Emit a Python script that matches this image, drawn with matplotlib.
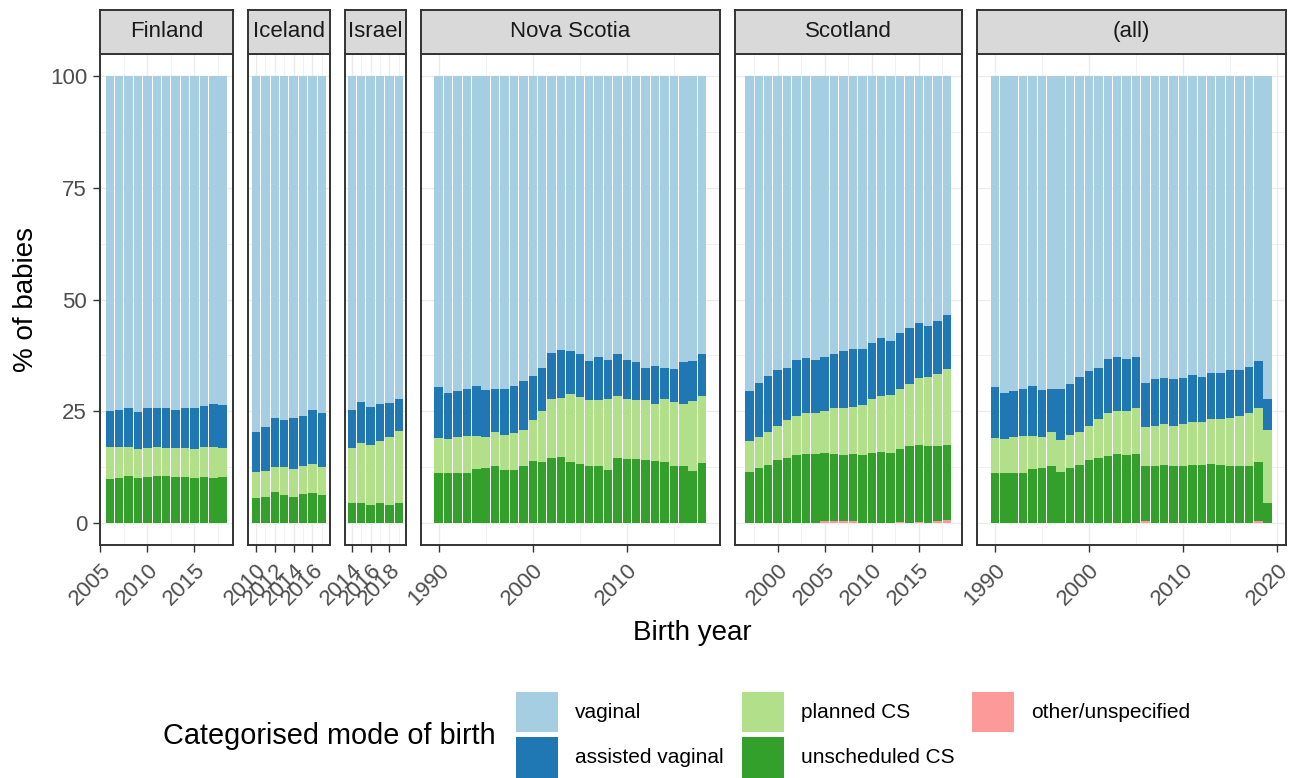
import matplotlib
matplotlib.use("Agg")
import matplotlib.pyplot as plt
from matplotlib.patches import Patch
import numpy as np

plt.rcParams['font.family'] = ['Liberation Sans', 'DejaVu Sans']

# ---------------------------------------------------------------- data
categories = ["vaginal", "assisted vaginal", "planned CS", "unscheduled CS", "other/unspecified"]
colours = ["#A6CEE3", "#1F78B4", "#B2DF8A", "#33A02C", "#FB9A99"]
panels = ["Finland", "Iceland", "Israel", "Nova Scotia", "Scotland", "(all)"]

finland_years = list(range(2006, 2019))
finland_vaginal = [75.0, 74.7, 74.4, 75.1, 74.4, 74.4, 74.4, 74.7, 74.4, 74.4, 73.8, 73.5, 73.6]
finland_assisted = [8.1, 8.3, 8.6, 8.5, 8.9, 8.7, 8.9, 8.6, 8.9, 9.2, 9.3, 9.5, 9.6]
finland_planned = [7.1, 7.1, 6.6, 6.4, 6.5, 6.5, 6.3, 6.5, 6.5, 6.4, 6.7, 7.0, 6.6]
finland_unscheduled = [9.8, 9.9, 10.4, 10.0, 10.2, 10.4, 10.4, 10.2, 10.2, 10.0, 10.2, 10.0, 10.2]
finland_other = [0.0] * 13

iceland_years = list(range(2010, 2018))
iceland_vaginal = [79.6, 78.6, 76.5, 77.1, 76.5, 76.2, 74.7, 75.5]
iceland_assisted = [9.1, 9.9, 11.1, 10.5, 11.5, 11.0, 12.1, 12.0]
iceland_planned = [5.8, 5.7, 5.6, 6.2, 6.2, 6.3, 6.6, 6.4]
iceland_unscheduled = [5.5, 5.8, 6.8, 6.2, 5.8, 6.5, 6.6, 6.1]
iceland_other = [0.0] * 8

israel_years = list(range(2014, 2020))
israel_vaginal = [74.7, 72.9, 74.1, 73.3, 73.1, 72.3]
israel_assisted = [8.5, 9.3, 8.5, 8.5, 7.8, 7.1]
israel_planned = [12.4, 13.5, 13.4, 13.9, 15.1, 16.2]
israel_unscheduled = [4.4, 4.3, 4.0, 4.3, 4.0, 4.4]
israel_other = [0.0] * 6

nova_scotia_years = list(range(1990, 2019))
nova_scotia_vaginal = [69.7, 70.9, 70.6, 70.0, 69.4, 70.3, 70.0, 70.1, 69.4, 68.2,
                       67.1, 65.4, 62.0, 61.3, 61.6, 62.3, 63.8, 62.9, 63.6, 62.3,
                       63.6, 64.1, 65.4, 64.8, 65.4, 65.5, 64.1, 63.8, 62.3]
nova_scotia_assisted = [11.4, 10.4, 10.2, 10.6, 11.2, 10.5, 9.7, 10.2, 10.6, 11.0,
                        9.9, 9.6, 10.4, 10.8, 9.6, 9.6, 8.8, 9.7, 8.8, 9.4,
                        8.8, 8.4, 7.2, 8.7, 7.0, 7.5, 9.4, 9.0, 9.4]
nova_scotia_planned = [7.8, 7.6, 8.1, 8.3, 7.3, 6.9, 7.7, 7.8, 8.1, 8.2,
                       9.1, 11.4, 13.2, 13.2, 15.2, 14.9, 14.8, 14.8, 15.7, 13.9,
                       13.3, 13.2, 13.4, 12.7, 14.0, 14.3, 13.9, 15.6, 14.9]
nova_scotia_unscheduled = [11.1, 11.1, 11.1, 11.1, 12.1, 12.3, 12.6, 11.9, 11.9, 12.6,
                           13.9, 13.6, 14.4, 14.7, 13.6, 13.2, 12.6, 12.6, 11.9, 14.4,
                           14.3, 14.3, 14.0, 13.8, 13.6, 12.7, 12.6, 11.6, 13.4]
nova_scotia_other = [0.0] * 29

scotland_years = list(range(1997, 2019))
scotland_vaginal = [70.5, 68.6, 67.2, 65.9, 65.4, 63.6, 63.1, 63.6, 62.9, 62.3, 61.6,
                    61.1, 61.1, 59.7, 58.7, 59.3, 57.6, 56.4, 55.3, 55.9, 54.9, 53.5]
scotland_assisted = [11.3, 12.1, 12.5, 12.4, 11.7, 12.6, 12.4, 11.9, 12.1, 12.0, 12.7,
                     12.9, 12.6, 12.5, 13.0, 12.2, 12.5, 12.6, 12.3, 11.4, 11.8, 12.0]
scotland_planned = [6.8, 7.1, 7.4, 7.7, 8.5, 8.7, 9.1, 9.1, 9.4, 10.3, 10.6,
                    10.7, 11.2, 12.1, 12.4, 12.9, 13.5, 13.9, 14.9, 15.6, 16.1, 17.0]
scotland_unscheduled = [11.4, 12.2, 12.9, 14.0, 14.4, 15.1, 15.4, 15.4, 15.3, 15.1, 14.8,
                        15.0, 15.1, 15.7, 15.9, 15.6, 16.2, 17.1, 17.3, 17.1, 16.9, 17.0]
scotland_other = [0.0, 0.0, 0.0, 0.0, 0.0, 0.0, 0.0, 0.0, 0.3, 0.3, 0.3,
                  0.3, 0.0, 0.0, 0.0, 0.0, 0.2, 0.0, 0.2, 0.0, 0.3, 0.5]

all_years = list(range(1990, 2020))
all_vaginal = [69.7, 70.9, 70.6, 70.0, 69.4, 70.3, 70.0, 70.1, 68.9, 67.3,
               66.1, 65.4, 63.3, 62.9, 63.3, 62.9, 68.6, 67.7, 67.5, 67.7,
               67.5, 66.9, 67.3, 66.4, 66.4, 65.9, 65.8, 65.1, 63.7, 72.2]
all_assisted = [11.4, 10.4, 10.2, 10.6, 11.2, 10.5, 9.7, 11.3, 11.5, 12.3,
                12.2, 11.4, 12.2, 12.1, 11.6, 11.5, 9.9, 10.6, 10.5, 10.6,
                10.5, 10.6, 10.2, 10.4, 10.3, 10.6, 10.3, 10.4, 10.5, 7.0]
all_planned = [7.8, 7.6, 8.1, 8.3, 7.3, 6.9, 7.7, 7.2, 7.3, 7.5,
               7.7, 8.8, 9.6, 9.6, 9.9, 10.2, 8.9, 9.0, 9.1, 9.0,
               9.3, 9.6, 9.6, 10.0, 10.4, 10.8, 11.2, 11.8, 12.2, 16.3]
all_unscheduled = [11.1, 11.1, 11.1, 11.1, 12.1, 12.3, 12.6, 11.4, 12.3, 12.9,
                   14.0, 14.4, 14.9, 15.4, 15.2, 15.4, 12.3, 12.7, 12.9, 12.7,
                   12.7, 12.9, 12.9, 13.2, 12.9, 12.7, 12.7, 12.7, 13.2, 4.5]
all_other = [0.0] * 16 + [0.3] + [0.0] * 11 + [0.4, 0.0]

panel_data = {
    "Finland": (finland_years, [finland_vaginal, finland_assisted, finland_planned,
                                finland_unscheduled, finland_other]),
    "Iceland": (iceland_years, [iceland_vaginal, iceland_assisted, iceland_planned,
                                iceland_unscheduled, iceland_other]),
    "Israel": (israel_years, [israel_vaginal, israel_assisted, israel_planned,
                              israel_unscheduled, israel_other]),
    "Nova Scotia": (nova_scotia_years, [nova_scotia_vaginal, nova_scotia_assisted,
                                        nova_scotia_planned, nova_scotia_unscheduled,
                                        nova_scotia_other]),
    "Scotland": (scotland_years, [scotland_vaginal, scotland_assisted, scotland_planned,
                                  scotland_unscheduled, scotland_other]),
    "(all)": (all_years, [all_vaginal, all_assisted, all_planned,
                          all_unscheduled, all_other]),
}
tick_steps = {"Finland": 5, "Iceland": 2, "Israel": 2, "Nova Scotia": 10,
              "Scotland": 5, "(all)": 10}

# ---------------------------------------------------------------- layout
W, H = 1300, 778
fig = plt.figure(figsize=(W / 100, H / 100), dpi=100)

bar_w = 0.9
left_px, right_px, gap_px = 99.5, 1286.0, 15.0
panel_top, panel_bot, strip_top = 54.0, 545.0, 9.5

limits = []
for name in panels:
    yrs = panel_data[name][0]
    lo, hi = min(yrs) - bar_w / 2, max(yrs) + bar_w / 2
    pad = 0.05 * (hi - lo)
    limits.append((lo - pad, hi + pad))
spans = [hi - lo for lo, hi in limits]
px_per_unit = (right_px - left_px - gap_px * (len(panels) - 1)) / sum(spans)

border_col = "#333333"
grid_col = "#EBEBEB"

x_px = left_px
for i, name in enumerate(panels):
    yrs, series = panel_data[name]
    lo, hi = limits[i]
    w_px = spans[i] * px_per_unit

    ax = fig.add_axes([x_px / W, (H - panel_bot) / H, w_px / W, (panel_bot - panel_top) / H])
    sax = fig.add_axes([x_px / W, (H - panel_top) / H, w_px / W, (panel_top - strip_top) / H])
    x_px += w_px + gap_px

    # stacked bars: bottom layer is the last category
    bottom = np.zeros(len(yrs))
    for vals, col in zip(series[::-1], colours[::-1]):
        vals = np.asarray(vals)
        ax.bar(yrs, vals, width=bar_w, bottom=bottom, color=col, linewidth=0, zorder=2)
        bottom += vals

    ax.set_xlim(lo, hi)
    ax.set_ylim(-5, 105)
    step = tick_steps[name]
    major = np.arange(np.ceil(lo / step) * step, hi, step)
    minor = np.arange(np.ceil(lo / (step / 2)) * (step / 2), hi, step / 2)
    minor = [m for m in minor if not np.isclose((m / step) % 1, 0)]
    ax.set_xticks(major)
    ax.set_xticklabels([str(int(t)) for t in major], rotation=45, ha="right",
                       va="top", rotation_mode="anchor")
    ax.set_xticks(minor, minor=True)
    ax.set_yticks([0, 25, 50, 75, 100])
    ax.set_yticks([12.5, 37.5, 62.5, 87.5], minor=True)
    ax.grid(which="major", color=grid_col, linewidth=1.0, zorder=0)
    ax.grid(which="minor", color=grid_col, linewidth=0.5, zorder=0)
    ax.set_axisbelow(True)
    ax.tick_params(which="major", length=5, width=1.0, color=border_col,
                   labelcolor="#4D4D4D", labelsize=16)
    ax.tick_params(axis="x", which="major", pad=5.5)
    ax.tick_params(axis="y", which="major", pad=4)
    ax.tick_params(which="minor", length=0)
    if i == 0:
        ax.set_yticklabels(["0", "25", "50", "75", "100"])
    else:
        ax.tick_params(axis="y", which="both", left=False, labelleft=False)
    for sp in ax.spines.values():
        sp.set_color(border_col)
        sp.set_linewidth(1.4)

    sax.set_facecolor("#D9D9D9")
    sax.set_xticks([])
    sax.set_yticks([])
    for sp in sax.spines.values():
        sp.set_color(border_col)
        sp.set_linewidth(1.4)
    sax.text(0.5, 0.5, name, ha="center", va="center", fontsize=16,
             color="#1A1A1A", transform=sax.transAxes)

# axis titles
fig.text(26 / W, 1 - 300 / H, "% of babies", rotation=90, ha="center",
         va="center", fontsize=20)
fig.text(692 / W, 1 - 633 / H, "Birth year", ha="center", va="center", fontsize=20)

# legend
fig.text(163 / W, 1 - 736 / H, "Categorised mode of birth", ha="left",
         va="center", fontsize=20.8)
handles = [Patch(facecolor=c, edgecolor="none") for c in colours]
fig.legend(handles, categories, ncol=3, loc="upper left",
           bbox_to_anchor=(516 / W, 1 - 691.5 / H), frameon=False, fontsize=15,
           handlelength=2.02, handleheight=2.65, labelspacing=0.2,
           handletextpad=0.82, columnspacing=0.85, borderpad=0, borderaxespad=0)

fig.savefig("out.png", dpi=100)
